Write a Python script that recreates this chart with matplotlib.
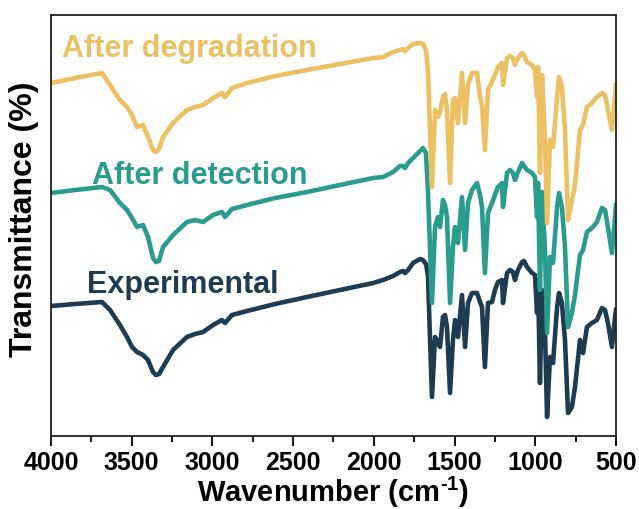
import matplotlib
matplotlib.use("Agg")
import matplotlib.pyplot as plt
from matplotlib.ticker import MultipleLocator

plt.rcParams['font.family'] = ['Liberation Sans', 'DejaVu Sans']
plt.rcParams['font.weight'] = 'bold'
plt.rcParams['mathtext.fontset'] = 'custom'
plt.rcParams['mathtext.rm'] = 'Liberation Sans:bold'
plt.rcParams['mathtext.bf'] = 'Liberation Sans:bold'

# FTIR spectra (transmittance in arbitrary, stacked units)
wavenumber = [4000, 3851, 3684, 3634, 3573, 3529, 3498, 3467, 3430, 3399,
              3368, 3350, 3331, 3306, 3244, 3158, 3108, 3058, 2996, 2941,
              2922, 2879, 2786, 2612, 2414, 2210, 2005, 1943, 1881, 1838,
              1819, 1807, 1788, 1757, 1714, 1696, 1677, 1665, 1640, 1621,
              1603, 1590, 1572, 1559, 1547, 1528, 1510, 1497, 1479, 1454,
              1435, 1417, 1392, 1361, 1342, 1330, 1312, 1293, 1268, 1250,
              1231, 1206, 1200, 1175, 1157, 1138, 1126, 1107, 1082, 1070,
              1051, 1020, 1002, 989, 983, 971, 958, 940, 927, 909,
              890, 865, 853, 835, 816, 797, 773, 754, 723, 704,
              680, 649, 618, 587, 568, 550, 525, 506, 500]

experimental = [130, 132, 134, 126, 111, 99, 89, 84, 81, 76,
                64, 61, 62, 69, 86, 99, 102, 104, 111, 116,
                113, 121, 125, 132, 139, 146, 153, 156, 160, 164,
                165, 163, 166, 173, 177, 176, 172, 161, 39, 99,
                94, 89, 119, 121, 109, 43, 96, 116, 99, 141,
                89, 133, 143, 143, 134, 129, 69, 133, 134, 146,
                154, 156, 133, 163, 166, 164, 156, 166, 174, 175,
                169, 163, 161, 123, 156, 53, 146, 106, 19, 79,
                73, 129, 143, 133, 96, 23, 29, 49, 96, 83,
                109, 113, 116, 128, 126, 113, 89, 119, 126]

after_detection = [243, 246, 249, 246, 233, 226, 218, 209, 211, 199,
                   178, 174, 175, 189, 201, 214, 216, 214, 221, 224,
                   219, 227, 231, 238, 244, 251, 258, 259, 264, 270,
                   270, 268, 273, 278, 285, 288, 283, 246, 133, 209,
                   219, 209, 236, 231, 219, 133, 189, 209, 193, 239,
                   186, 233, 246, 253, 241, 229, 163, 223, 233, 241,
                   249, 253, 229, 263, 266, 263, 256, 264, 273, 270,
                   266, 263, 259, 219, 253, 146, 244, 186, 103, 179,
                   173, 229, 243, 229, 189, 109, 123, 141, 181, 186,
                   204, 208, 214, 228, 226, 209, 183, 219, 231]

after_degradation = [353, 358, 363, 351, 336, 329, 321, 309, 311, 299,
                     286, 284, 287, 299, 313, 326, 329, 331, 338, 343,
                     339, 348, 353, 360, 366, 372, 378, 379, 384, 386,
                     387, 385, 388, 392, 393, 392, 386, 366, 249, 326,
                     319, 324, 339, 342, 326, 253, 336, 338, 313, 363,
                     313, 351, 363, 363, 339, 331, 286, 346, 354, 361,
                     369, 373, 351, 378, 380, 378, 371, 378, 383, 381,
                     374, 371, 366, 339, 369, 263, 361, 296, 213, 296,
                     289, 339, 359, 349, 306, 216, 236, 251, 306, 311,
                     329, 333, 339, 343, 341, 326, 306, 339, 351]

series_names = ["Experimental", "After detection", "After degradation"]
series_colors = ["#1D3C52", "#2A9C8D", "#EBC164"]
label_pos = [(3777, 143), (3746, 252), (3932, 379)]

fig = plt.figure(figsize=(6.39, 5.09), dpi=100)
ax = fig.add_axes([0.0798, 0.1434, 0.8842, 0.8271])

for ys, name, col, (tx, ty) in zip([experimental, after_detection, after_degradation],
                                   series_names, series_colors, label_pos):
    ax.plot(wavenumber, ys, color=col, lw=3.3, solid_joinstyle='round')
    ax.text(tx, ty, name, color=col, fontsize=22, fontweight='bold',
            ha='left', va='baseline')

ax.set_xlim(4000, 500)
ax.set_ylim(0, 421)
ax.xaxis.set_major_locator(MultipleLocator(500))
ax.xaxis.set_minor_locator(MultipleLocator(250))
ax.set_yticks([])
ax.tick_params(axis='x', which='major', direction='out', length=7, width=1.3,
               labelsize=18, pad=4, colors='black')
ax.tick_params(axis='x', which='minor', direction='out', length=4, width=1.3)
for lab in ax.get_xticklabels():
    lab.set_fontweight('bold')
for sp in ax.spines.values():
    sp.set_linewidth(1.3)
    sp.set_color('#222222')

ax.set_xlabel(r'Wavenumber (cm$^{\text{-1}}$)', fontsize=21,
              fontweight='bold', labelpad=0)
ax.set_ylabel('Transmittance (%)', fontsize=23, fontweight='bold')
ax.yaxis.set_label_coords(-0.022, 0.515)

fig.savefig("out.png", dpi=100)
